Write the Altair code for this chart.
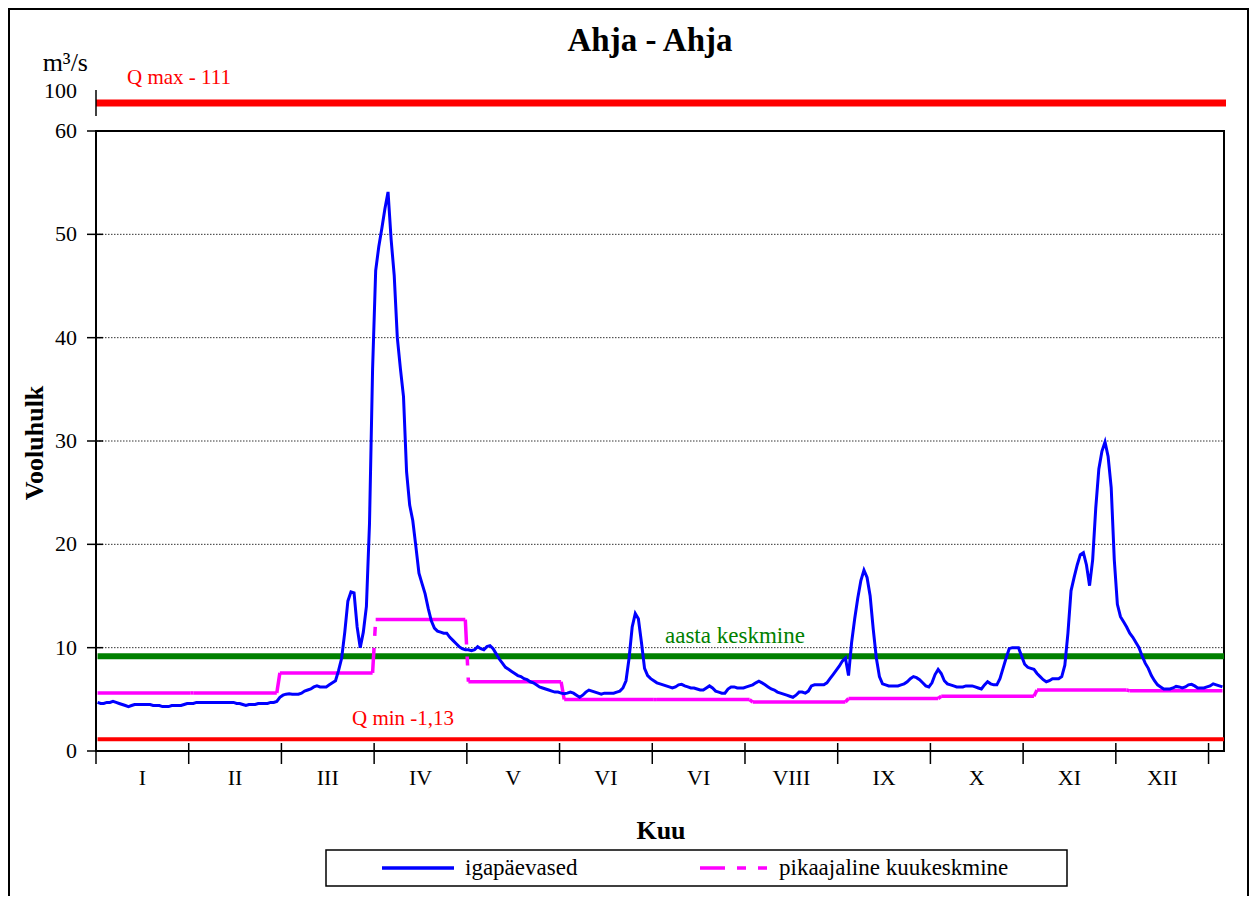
import altair as alt
import pandas as pd

FONT = "Liberation Serif"

TITLE = "Ahja - Ahja"
Y_TITLE = "Vooluhulk"
X_TITLE = "Kuu"
UNIT = "m³/s"
MONTH_LABELS = ["I", "II", "III", "IV", "V", "VI", "VI", "VIII", "IX", "X", "XI", "XII"]
MONTH_DAYS = [31, 28, 31, 30, 31, 30, 31, 31, 30, 31, 30, 31]
MONTHLY_MEAN = [5.62, 5.62, 7.56, 12.72, 6.70, 4.98, 4.98, 4.74, 5.08, 5.30, 5.90, 5.82]
ANNUAL_MEAN = 9.17
Q_MIN = 1.13
Q_MAX = 111
Q_MAX_LABEL = "Q max - 111"
Q_MIN_LABEL = "Q min -1,13"
MEAN_LABEL = "aasta  keskmine"
LEGEND_DAILY = "igapäevased"
LEGEND_MONTHLY = "pikaajaline kuukeskmine"
BREAK_LABEL = "100"
TICK_STEP = 30
X_TICKS = [k * TICK_STEP for k in range(13)]
Y_TICKS = [0, 10, 20, 30, 40, 50, 60]
Y_GRID = [10, 20, 30, 40, 50]

DAILY_JAN = [4.7, 4.6, 4.6, 4.7, 4.7, 4.8, 4.7, 4.6, 4.5, 4.4, 4.3, 4.4, 4.5, 4.5, 4.5, 4.5,
             4.5, 4.5, 4.4, 4.4, 4.4, 4.3, 4.3, 4.3, 4.4, 4.4, 4.4, 4.4, 4.5, 4.6, 4.6]
DAILY_FEB = [4.6, 4.7, 4.7, 4.7, 4.7, 4.7, 4.7, 4.7, 4.7, 4.7, 4.7, 4.7, 4.7, 4.7, 4.6, 4.6,
             4.5, 4.4, 4.5, 4.5, 4.5, 4.6, 4.6, 4.6, 4.6, 4.7, 4.7, 4.8]
DAILY_MAR = [5.2, 5.4, 5.5, 5.55, 5.5, 5.5, 5.5, 5.6, 5.8, 5.9, 6.0, 6.2, 6.3, 6.2, 6.2, 6.2,
             6.4, 6.6, 6.8, 7.8, 9.0, 11.5, 14.5, 15.4, 15.3, 12.0, 10.0, 11.5, 14.0, 22.0, 37.0]
DAILY_APR = [46.5, 48.8, 50.6, 52.5, 54.1, 49.5, 46.0, 40.0, 37.0, 34.3, 27.0, 23.8, 22.3, 19.8,
             17.2, 16.2, 15.2, 13.8, 12.6, 11.9, 11.6, 11.5, 11.4, 11.4, 11.0, 10.7, 10.4, 10.1,
             9.9, 9.8]
DAILY_MAY = [9.8, 9.7, 9.8, 10.1, 9.9, 9.8, 10.1, 10.2, 9.9, 9.4, 8.9, 8.5, 8.1, 7.9, 7.7, 7.5,
             7.3, 7.2, 7.0, 6.9, 6.7, 6.6, 6.4, 6.2, 6.1, 6.0, 5.9, 5.8, 5.7, 5.7, 5.6]
DAILY_JUN = [5.55, 5.6, 5.7, 5.6, 5.4, 5.2, 5.4, 5.7, 5.9, 5.8, 5.7, 5.6, 5.5, 5.6, 5.6, 5.6,
             5.6, 5.7, 5.8, 6.1, 6.8, 9.0, 12.0, 13.3, 12.8, 10.5, 8.0, 7.3, 7.0, 6.8]
DAILY_JUL = [6.6, 6.5, 6.4, 6.3, 6.2, 6.1, 6.2, 6.4, 6.45, 6.3, 6.2, 6.1, 6.1, 6.0, 5.9, 5.9,
             6.1, 6.3, 6.1, 5.8, 5.7, 5.6, 5.6, 6.0, 6.2, 6.2, 6.1, 6.1, 6.1, 6.2, 6.3]
DAILY_AUG = [6.4, 6.6, 6.75, 6.6, 6.4, 6.2, 6.0, 5.9, 5.7, 5.6, 5.5, 5.4, 5.3, 5.2, 5.4, 5.7,
             5.7, 5.6, 5.8, 6.3, 6.4, 6.4, 6.4, 6.4, 6.6, 7.0, 7.4, 7.8, 8.2, 8.7, 9.0]
DAILY_SEP = [7.3, 10.5, 12.8, 14.8, 16.5, 17.5, 16.8, 15.0, 11.8, 9.0, 7.2, 6.5, 6.4, 6.3, 6.3,
             6.3, 6.3, 6.4, 6.5, 6.7, 7.0, 7.2, 7.1, 6.9, 6.6, 6.3, 6.2, 6.6, 7.4, 7.9]
DAILY_OCT = [7.5, 6.8, 6.5, 6.4, 6.3, 6.2, 6.2, 6.2, 6.3, 6.3, 6.3, 6.2, 6.1, 6.0, 6.4, 6.7,
             6.5, 6.4, 6.4, 7.0, 8.0, 9.0, 9.9, 10.0, 10.0, 10.0, 9.2, 8.4, 8.1, 8.0, 7.9]
DAILY_NOV = [7.5, 7.2, 6.9, 6.7, 6.8, 7.0, 7.0, 7.0, 7.2, 8.3, 11.4, 15.5, 16.8, 18.0, 19.0,
             19.2, 18.0, 16.0, 18.5, 23.5, 27.3, 29.0, 29.9, 28.5, 25.5, 18.5, 14.2, 13.0, 12.5,
             12.0]
DAILY_DEC = [11.4, 11.0, 10.5, 10.0, 9.2, 8.5, 8.0, 7.3, 6.8, 6.4, 6.2, 6.0, 6.0, 6.0, 6.1,
             6.25, 6.2, 6.1, 6.2, 6.4, 6.45, 6.3, 6.1, 6.1, 6.1, 6.2, 6.3, 6.5, 6.4, 6.3, 6.2]

DAILY = (DAILY_JAN + DAILY_FEB + DAILY_MAR + DAILY_APR + DAILY_MAY + DAILY_JUN + DAILY_JUL
         + DAILY_AUG + DAILY_SEP + DAILY_OCT + DAILY_NOV + DAILY_DEC)
N_DAYS = sum(MONTH_DAYS)

W, H = 1128, 620
BLUE = "#0000FF"
MAGENTA = "#FF00FF"
RED = "#FF0000"
GREEN = "#008000"
DASH = [25, 12, 9, 12, 9, 12]

xs = alt.Scale(domain=[0, N_DAYS], nice=False, zero=False)
ys = alt.Scale(domain=[0, 60], nice=False)


def X(field):
    return alt.X(field, scale=xs, axis=None)


def Y(field):
    return alt.Y(field, scale=ys, axis=None)


daily_df = pd.DataFrame({"x": [i + 0.5 for i in range(len(DAILY))], "q": DAILY})

starts = [sum(MONTH_DAYS[:m]) for m in range(12)]
mon_df = pd.DataFrame({
    "x": [s + 0.5 for s in starts],
    "x2": [s + n - 0.5 for s, n in zip(starts, MONTH_DAYS)],
    "y": MONTHLY_MEAN,
})
trans_df = pd.DataFrame({
    "x": [starts[m + 1] - 0.5 for m in range(11)],
    "x2": [starts[m + 1] + 0.5 for m in range(11)],
    "y": MONTHLY_MEAN[:11],
    "y2": MONTHLY_MEAN[1:],
})
lab_df = pd.DataFrame({"mx": [k * TICK_STEP + TICK_STEP / 2 for k in range(12)],
                       "lab": MONTH_LABELS})
one = pd.DataFrame({"k": [0]})

# manual axes: grid, crossing ticks, labels
grid = alt.Chart(pd.DataFrame({"t": Y_GRID})).mark_rule(
    color="#333333", strokeWidth=1, strokeDash=[1.5, 1.5]).encode(
    y=Y("t:Q"), x=alt.value(0), x2=alt.value(W))
yticks = alt.Chart(pd.DataFrame({"t": Y_TICKS})).mark_rule(color="black", strokeWidth=1.5).encode(
    y=Y("t:Q"), x=alt.value(-9), x2=alt.value(7))
ylabels = alt.Chart(pd.DataFrame({"t": Y_TICKS})).mark_text(
    font=FONT, fontSize=22, color="black", align="right", baseline="middle").encode(
    y=Y("t:Q"), x=alt.value(-19), text="t:Q")
xticks = alt.Chart(pd.DataFrame({"t": X_TICKS})).mark_rule(color="black", strokeWidth=1.5).encode(
    x=X("t:Q"), y=alt.value(H - 8), y2=alt.value(H + 13))
months = alt.Chart(lab_df).mark_text(font=FONT, fontSize=22, color="black").encode(
    x=X("mx:Q"), y=alt.value(647), text="lab:N")

blue = alt.Chart(daily_df).mark_line(color=BLUE, strokeWidth=3).encode(x=X("x:Q"), y=Y("q:Q"))

mon = alt.Chart(mon_df).mark_rule(color=MAGENTA, strokeWidth=3.5).encode(
    x=X("x:Q"), x2="x2:Q", y=Y("y:Q"))
trans = alt.Chart(trans_df).mark_rule(color=MAGENTA, strokeWidth=3.5, strokeDash=DASH).encode(
    x=X("x:Q"), x2="x2:Q", y=Y("y:Q"), y2="y2:Q")

green = alt.Chart(pd.DataFrame({"x": [0.5], "x2": [N_DAYS], "y": [ANNUAL_MEAN]})).mark_rule(
    color=GREEN, strokeWidth=6).encode(x=X("x:Q"), x2="x2:Q", y=Y("y:Q"))
qmin = alt.Chart(pd.DataFrame({"x": [0.5], "x2": [N_DAYS], "y": [Q_MIN]})).mark_rule(
    color=RED, strokeWidth=4).encode(x=X("x:Q"), x2="x2:Q", y=Y("y:Q"))
qmax = alt.Chart(pd.DataFrame({"q": [Q_MAX]})).mark_rule(color=RED, strokeWidth=7).encode(
    x=alt.value(0), x2=alt.value(W + 2), y=alt.value(-28))
brk = alt.Chart(one).mark_rule(color="black", strokeWidth=1.5).encode(
    x=alt.value(0), y=alt.value(-41), y2=alt.value(-15))


def txt(s, x, y, size, **kw):
    return alt.Chart(pd.DataFrame({"t": [s]})).mark_text(font=FONT, fontSize=size, **kw).encode(
        text="t:N", x=alt.value(x), y=alt.value(y))


texts = [
    txt(TITLE, 554, -80, 33, fontWeight="bold", color="black", baseline="alphabetic"),
    txt(UNIT, -8, -60, 26, color="black", align="right", baseline="alphabetic"),
    txt(BREAK_LABEL, -19, -40, 22, color="black", align="right", baseline="middle"),
    txt(Q_MAX_LABEL, 31, -53, 21, color=RED, align="left", baseline="middle"),
    txt(Q_MIN_LABEL, 256, 588, 21, color=RED, align="left", baseline="middle"),
    txt(MEAN_LABEL, 569, 512, 23, color=GREEN, align="left", baseline="alphabetic"),
    txt(X_TITLE, 565, 708, 26, fontWeight="bold", color="black", baseline="alphabetic"),
    txt(Y_TITLE, -53, 312, 26, fontWeight="bold", color="black", angle=270,
        baseline="alphabetic"),
]

leg_box = alt.Chart(one).mark_rect(fill="white", stroke="black", strokeWidth=1.5).encode(
    x=alt.value(230), x2=alt.value(971), y=alt.value(719), y2=alt.value(755))
leg_blue = alt.Chart(one).mark_rule(color=BLUE, strokeWidth=3.5).encode(
    x=alt.value(286), x2=alt.value(358), y=alt.value(737))
leg_mag = alt.Chart(one).mark_rule(color=MAGENTA, strokeWidth=3.5, strokeDash=DASH).encode(
    x=alt.value(604), x2=alt.value(675), y=alt.value(737))
leg_texts = [
    txt(LEGEND_DAILY, 369, 737, 23, color="black", align="left", baseline="middle"),
    txt(LEGEND_MONTHLY, 683, 737, 23, color="black", align="left", baseline="middle"),
]

frame = alt.Chart(one).mark_rect(fill="transparent", stroke="black", strokeWidth=2).encode(
    x=alt.value(-87), x2=alt.value(1152), y=alt.value(-122), y2=alt.value(900))

chart = alt.layer(
    grid, green, qmin, mon, trans, blue,
    yticks, ylabels, xticks, months, qmax, brk, *texts,
    leg_box, leg_blue, leg_mag, *leg_texts, frame,
).properties(
    width=W, height=H,
    padding={"left": 88, "top": 123, "right": 26, "bottom": 145},
    autosize=alt.AutoSizeParams(type="none"),
    background="white",
).configure_view(stroke="black", strokeWidth=2)

chart.save("out.html", embed_options={"renderer": "svg", "actions": False})
